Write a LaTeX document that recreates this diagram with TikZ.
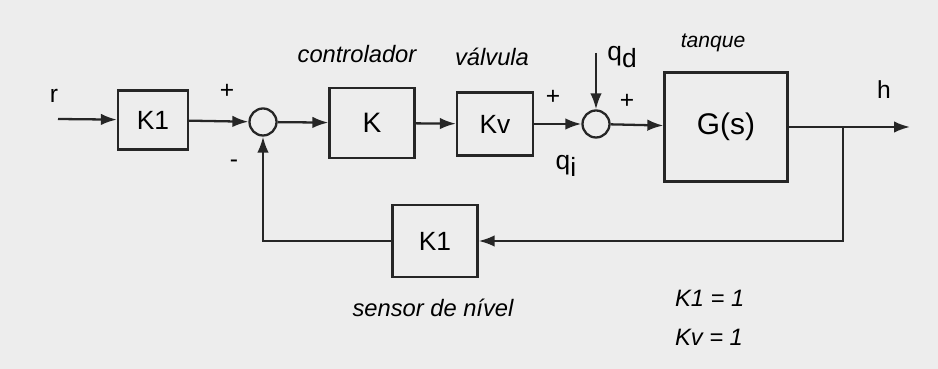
\documentclass[tikz,border=0pt]{standalone}
\usepackage{fontspec}
\setmainfont{Liberation Sans}
\usetikzlibrary{arrows.meta}

\begin{document}
\begin{tikzpicture}[x=0.2mm, y=-0.2mm, line width=1.3pt,
    B/.style={draw=black!85, line width=1.3pt, inner sep=0pt, font=\fontsize{15}{18}\selectfont},
    S/.style={circle, draw=black!85, line width=1.3pt, minimum size=5.4mm, inner sep=0pt},
    L/.style={font=\fontsize{13.5}{16}\selectfont\itshape},
    T/.style={font=\fontsize{14}{17}\selectfont},
    A/.style={draw=black!85, -{Latex[length=3.2mm, width=2.3mm]}}]

    % Fundo
    \fill[black!7] (0,0) rectangle (938,369);
    \useasboundingbox (0,0) rectangle (938,369);

    % Blocos
    \node[B, minimum width=14mm, minimum height=11.8mm] (ka) at (153,120) {K1};
    \node[B, minimum width=17mm, minimum height=14mm, font=\fontsize{16}{19}\selectfont] (k) at (372,123) {K};
    \node[B, minimum width=15.2mm, minimum height=12.6mm] (kv) at (495,124) {Kv};
    \node[B, minimum width=24.6mm, minimum height=21.8mm, font=\fontsize{17}{20}\selectfont] (g) at (726,127) {G(s)};
    \node[B, minimum width=17mm, minimum height=14.4mm] (kb) at (435,241) {K1};

    % Somadores
    \node[S] (s1) at (263,122) {};
    \node[S] (s2) at (596,124) {};

    % Pontos livres
    \coordinate (in) at (58,119);
    \coordinate (out) at (910,127);
    \coordinate (br) at (843,127);
    \coordinate (qd) at (596,53);

    % Ligacoes
    \draw[A] (in) -- (ka);
    \draw[A] (ka) -- (s1);
    \draw[A] (s1) -- (k);
    \draw[A] (k) -- (kv);
    \draw[A] (kv) -- (s2);
    \draw[A] (qd) -- (s2);
    \draw[A] (s2) -- (g);
    \draw[A] (g) -- (out);
    \draw[A] (br) |- (kb.east);
    \draw[A] (kb.west) -| (s1.south);

    % Sinais e variaveis
    \node[T] (r) at (54,96) {r};
    \node[T] (h) at (884,90) {h};
    \node[T] (p1) at (227,91) {+};
    \node[T] (m1) at (234,164) {-};
    \node[T] (p2) at (553,97) {+};
    \node[T] (p3) at (627,101) {+};
    \node[T, font=\fontsize{15}{18}\selectfont] (lqd) at (622,57) {q\raisebox{-0.55ex}{d}};
    \node[T, font=\fontsize{15}{18}\selectfont] (lqi) at (566,166) {q\raisebox{-0.55ex}{i}};

    % Rotulos
    \node[L] (lc) at (357,54) {controlador};
    \node[L] (lv) at (492,57) {válvula};
    \node[L, font=\fontsize{12}{14}\selectfont\itshape] (lt) at (713,43) {tanque};
    \node[L] (ls) at (433,308) {sensor de nível};
    \node[L, anchor=west] (lk1) at (668,298) {K1 = 1};
    \node[L, anchor=west] (lkv) at (668,337) {Kv = 1};
\end{tikzpicture}
\end{document}
